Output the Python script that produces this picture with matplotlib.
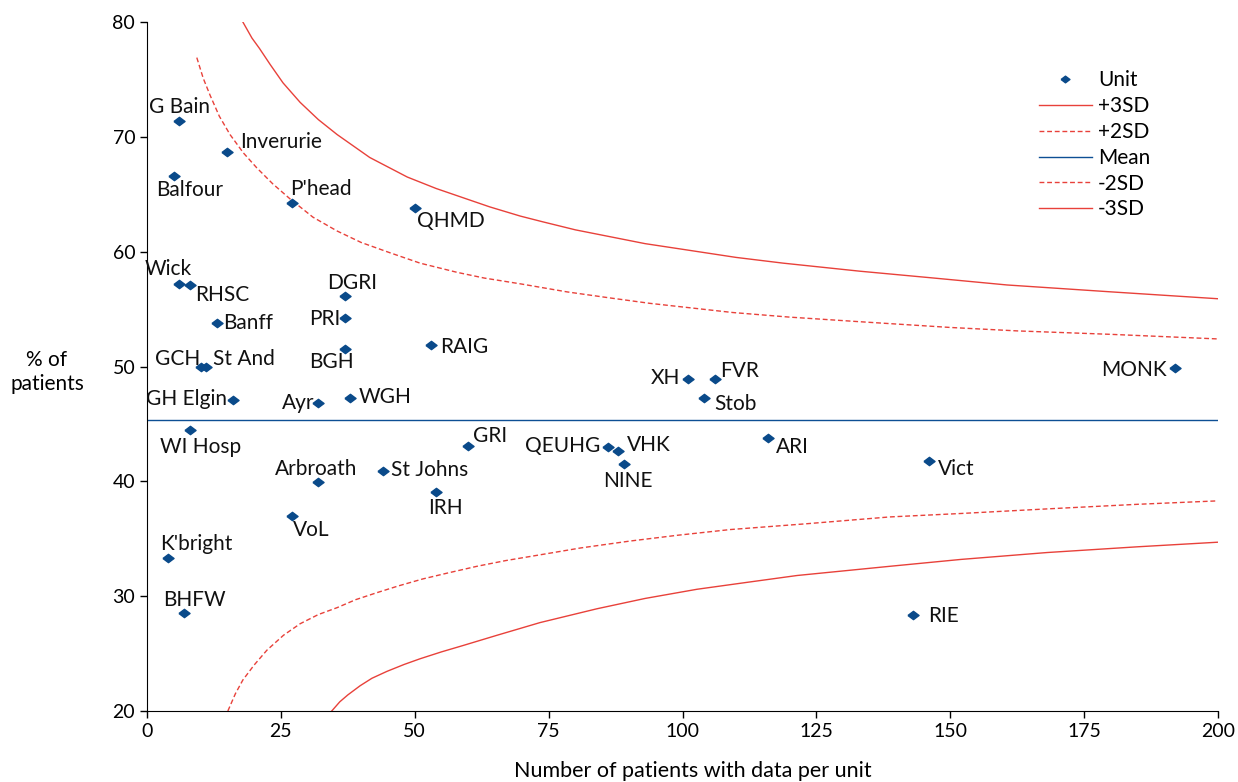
import matplotlib
matplotlib.use("Agg")
import matplotlib.pyplot as plt

plt.rcParams['font.family'] = ['Lato', 'DejaVu Sans']

# units: patients with data (x) and % of patients (y)
units = ["G Bain", "Inverurie", "Balfour", "P'head", "QHMD", "Wick", "RHSC", "DGRI",
         "Banff", "PRI", "RAIG", "BGH", "GCH", "St And", "MONK", "XH", "FVR", "Stob",
         "GH Elgin", "Ayr", "WGH", "WI Hosp", "GRI", "QEUHG", "VHK", "ARI", "NINE",
         "Vict", "St Johns", "Arbroath", "IRH", "VoL", "K'bright", "BHFW", "RIE"]
n_patients = [6, 15, 5, 27, 50, 6, 8, 37, 13, 37, 53, 37, 10, 11, 192, 101, 106, 104,
              16, 32, 38, 8, 60, 86, 88, 116, 89, 146, 44, 32, 54, 27, 4, 7, 143]
pct = [71.4, 68.7, 66.6, 64.2, 63.8, 57.2, 57.1, 56.1, 53.8, 54.2, 51.9, 51.5, 50.0,
       50.0, 49.9, 48.9, 48.9, 47.3, 47.1, 46.8, 47.3, 44.5, 43.1, 43.0, 42.6, 43.8,
       41.5, 41.8, 40.9, 39.9, 39.1, 37.0, 33.3, 28.5, 28.4]

mean_pct = 45.3

# control limits
up3_n = [17.9, 19.6, 21.0, 23.0, 25.4, 28.6, 32.0, 35.5, 41.6, 48.6, 54.0, 59.0,
         64.0, 69.7, 73.9, 80.0, 86.5, 93.0, 100.1, 110.0, 118.8, 133.1, 147.0,
         160.6, 180.0, 200]
up3_y = [80.0, 78.6, 77.7, 76.3, 74.7, 73.0, 71.5, 70.2, 68.2, 66.5, 65.5, 64.7,
         63.9, 63.1, 62.6, 61.9, 61.3, 60.7, 60.2, 59.5, 59.0, 58.3, 57.7,
         57.1, 56.5, 55.9]
up2_n = [9.3, 10.5, 11.8, 13.5, 15.5, 18.0, 20.5, 23.5, 26.7, 31.0, 35.5, 40.0,
         45.4, 51.0, 57.9, 63.0, 69.7, 78.4, 86.0, 93.9, 109.4, 120.0, 133.1,
         150.0, 162.5, 180.0, 200]
up2_y = [76.9, 75.1, 73.6, 71.8, 70.2, 68.6, 67.3, 65.9, 64.6, 63.0, 61.8, 60.8,
         59.9, 59.0, 58.2, 57.7, 57.2, 56.5, 56.0, 55.5, 54.7, 54.3, 53.9,
         53.4, 53.1, 52.8, 52.4]
lo2_n = [15.1, 16.5, 17.9, 20.0, 22.4, 25.5, 28.6, 32.0, 35.5, 39.0, 42.9, 47.0,
         51.5, 56.0, 61.6, 67.0, 73.4, 81.0, 90.2, 99.0, 108.9, 123.0, 138.7,
         152.0, 168.1, 185.0, 200]
lo2_y = [20.0, 21.5, 22.7, 24.0, 25.3, 26.6, 27.6, 28.4, 29.0, 29.7, 30.3, 30.9,
         31.5, 32.0, 32.6, 33.1, 33.6, 34.2, 34.8, 35.3, 35.8, 36.3, 36.9,
         37.2, 37.6, 38.0, 38.3]
lo3_n = [34.5, 36.0, 37.5, 39.8, 42.0, 44.8, 48.0, 51.0, 55.0, 59.0, 65.4, 73.4,
         84.0, 93.0, 102.7, 112.0, 121.4, 138.7, 152.0, 168.1, 185.0, 200]
lo3_y = [20.0, 20.8, 21.4, 22.2, 22.85, 23.45, 24.05, 24.55, 25.15, 25.7, 26.6, 27.7,
         28.9, 29.8, 30.6, 31.2, 31.8, 32.6, 33.2, 33.8, 34.3, 34.7]

# label offsets in pixels (dx, dy)
offsets = [(0, 14), (54, 10), (16, -14), (29, 14), (36, -13), (-11, 15), (32, -10),
           (7, 13), (31, 0), (-20, -1), (33, -2), (-14, -13), (-23, 8), (38, 8),
           (-41, -2), (-22, 1), (25, 8), (32, -6), (-46, 1), (-20, 0), (35, 1),
           (11, -17), (22, 10), (-45, 1), (31, 6), (24, -9), (4, -17), (27, -8),
           (47, 1), (-2, 13), (9, -16), (20, -14), (28, 14), (10, 13), (31, -1)]

red = "#e8413a"
blue = "#0d4f94"
fs = 15

fig = plt.figure(figsize=(12.38, 7.82), dpi=100)
ax = fig.add_axes([147 / 1238, 1 - 711 / 782, 1071 / 1238, 689 / 782])

diamond = [(-1, 0), (0, 0.75), (1, 0), (0, -0.75), (-1, 0)]
ax.plot(n_patients, pct, linestyle="none", marker=diamond, ms=8, color="#0a4a8a",
        label="Unit", zorder=5)
ax.plot(up3_n, up3_y, color=red, lw=1.0, label="+3SD")
ax.plot(up2_n, up2_y, color=red, lw=1.0, ls=(0, (3.5, 2)), label="+2SD")
ax.plot([0, 200], [mean_pct, mean_pct], color=blue, lw=1.0, label="Mean")
ax.plot(lo2_n, lo2_y, color=red, lw=1.0, ls=(0, (3.5, 2)), label="-2SD")
ax.plot(lo3_n, lo3_y, color=red, lw=1.0, label="-3SD")

for name, x, y, (dx, dy) in zip(units, n_patients, pct, offsets):
    ax.annotate(name, (x, y), xytext=(dx, dy), textcoords="offset pixels",
                ha="center", va="center", fontsize=fs, color="#111111")

ax.set_xlim(0, 200)
ax.set_ylim(20, 80)
ax.set_xticks(range(0, 201, 25))
ax.set_yticks(range(20, 81, 10))
ax.tick_params(direction="out", length=5, labelsize=14, width=1)
ax.spines["top"].set_visible(False)
ax.spines["right"].set_visible(False)

ax.set_xlabel("Number of patients with data per unit", fontsize=15.5)
ax.xaxis.set_label_coords(0.51, -0.073)
fig.text(47 / 1238, 1 - 372 / 782, "% of\npatients", ha="center", va="center",
         fontsize=15)

ax.legend(loc="upper left", bbox_to_anchor=(0.823, 0.945), frameon=False,
          fontsize=fs, handlelength=2.55, labelspacing=0.28, borderpad=0,
          handletextpad=0.3, markerscale=0.8)

fig.savefig("out.png", dpi=100)
